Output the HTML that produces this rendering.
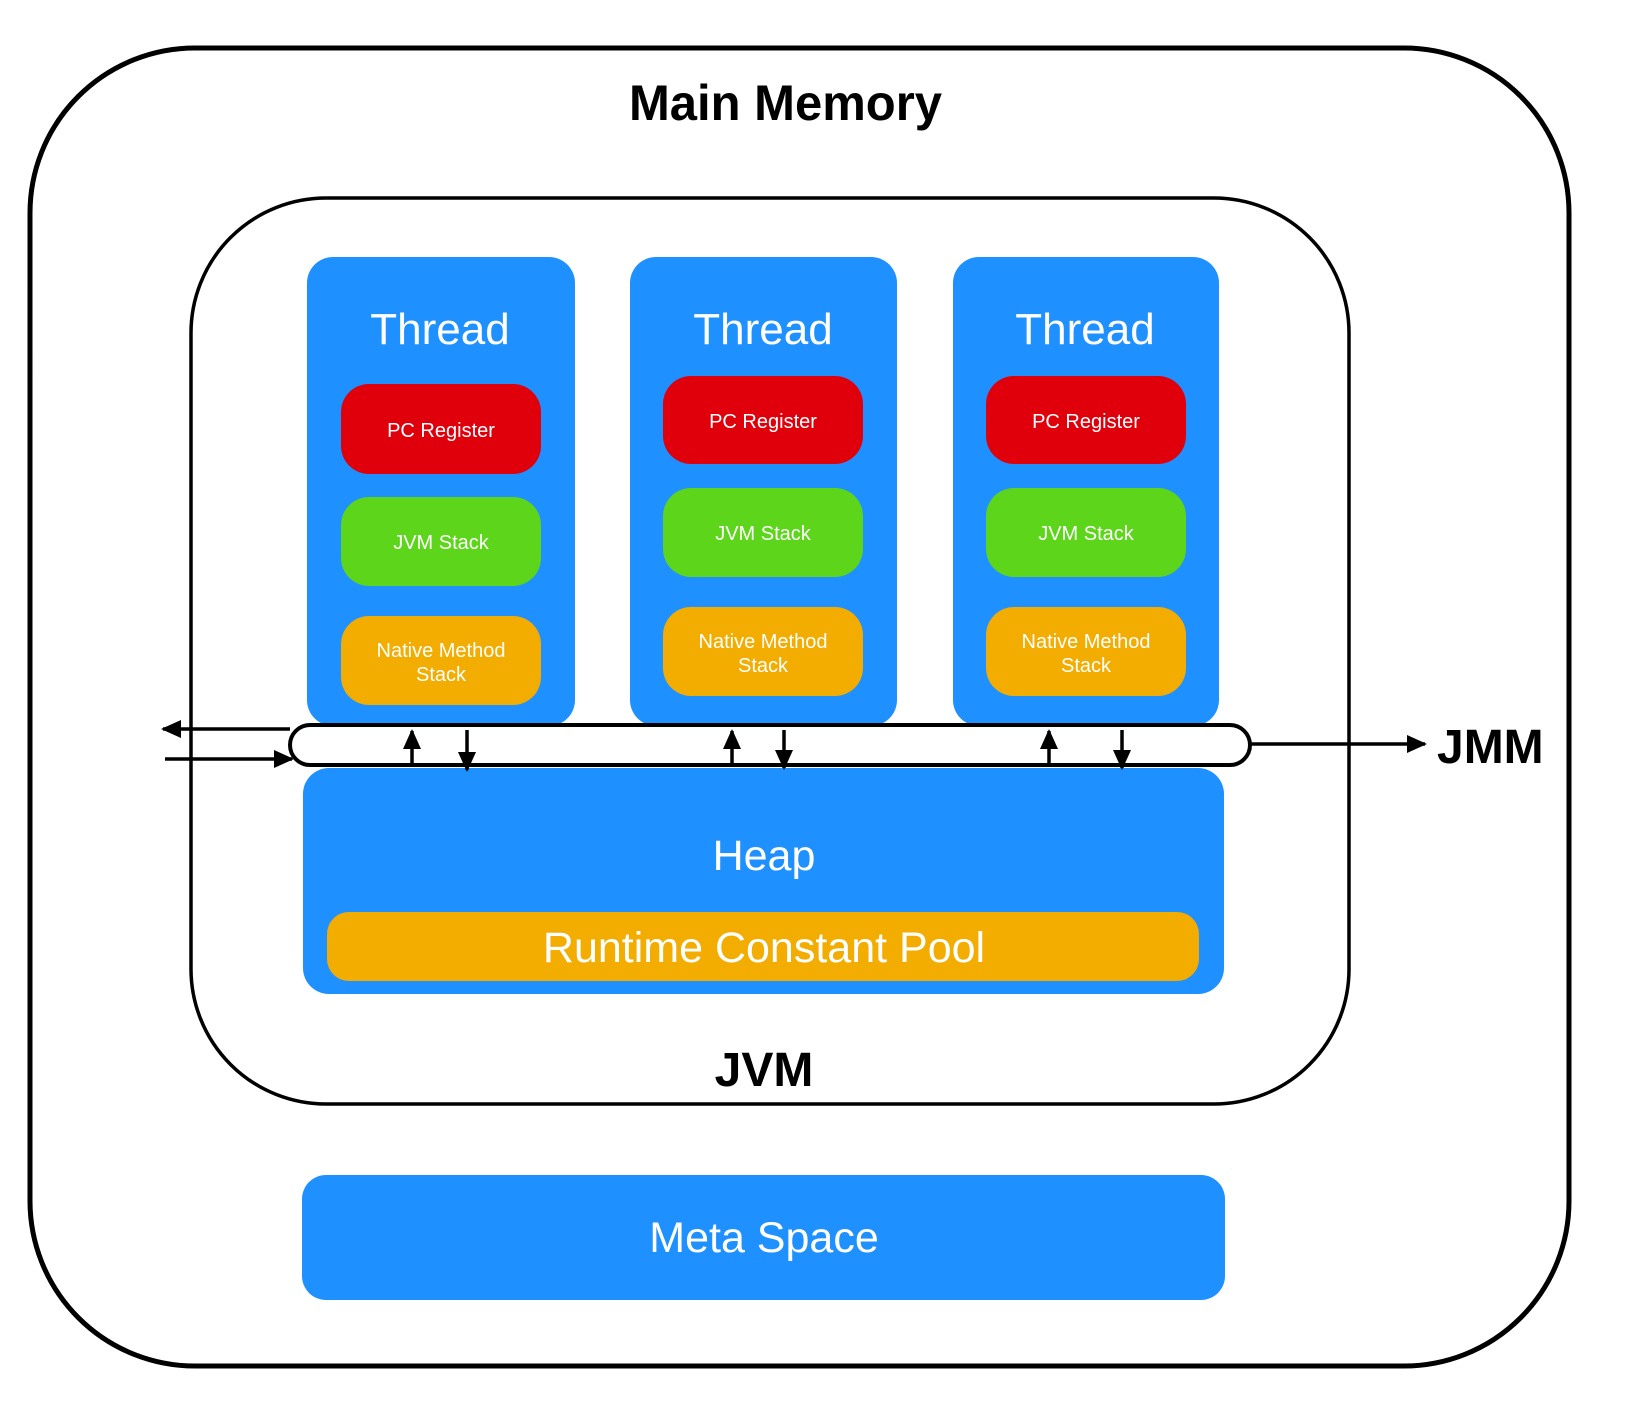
<!DOCTYPE html>
<html><head><meta charset="utf-8"><style>
html,body{margin:0;padding:0;background:#fff;}
svg{display:block;font-family:"Liberation Sans",Arial,sans-serif;}
</style></head><body>
<svg width="1642" height="1408" viewBox="0 0 1642 1408" xmlns="http://www.w3.org/2000/svg">
<defs>
<marker id="ahs" markerWidth="20" markerHeight="20" refX="18" refY="10" orient="auto" markerUnits="userSpaceOnUse" viewBox="0 0 20 20">
<path d="M0,1 L20,10 L0,19 z" fill="#000"/></marker>
</defs>
<rect x="30" y="48" width="1539" height="1318" rx="165" ry="165" fill="none" stroke="#000" stroke-width="5"/>
<text x="629" y="120" font-size="50" font-weight="bold" textLength="313" lengthAdjust="spacingAndGlyphs">Main Memory</text>
<rect x="191" y="198" width="1158" height="906" rx="135" ry="135" fill="none" stroke="#000" stroke-width="3.5"/>
<text x="764" y="1086" font-size="48" font-weight="bold" text-anchor="middle">JVM</text>

<g fill="#1E90FF">
<rect x="307" y="257" width="268" height="469" rx="26"/>
<rect x="630" y="257" width="267" height="469" rx="26"/>
<rect x="953" y="257" width="266" height="469" rx="26"/>
<rect x="303" y="768" width="921" height="226" rx="26"/>
<rect x="302" y="1175" width="923" height="125" rx="24"/>
</g>
<g fill="#fff" font-size="44" text-anchor="middle">
<text x="440" y="344">Thread</text>
<text x="763" y="344">Thread</text>
<text x="1085" y="344">Thread</text>
<text x="764" y="870" font-size="43">Heap</text>
<text x="764" y="1252" font-size="43">Meta Space</text>
</g>
<rect x="327" y="912" width="872" height="69" rx="22" fill="#F3AC00"/>
<text x="764" y="962" fill="#fff" font-size="43" text-anchor="middle">Runtime Constant Pool</text>

<g font-size="20" fill="#fff" text-anchor="middle">
<rect x="341" y="384" width="200" height="90" rx="28" fill="#E0000B"/>
<text x="441" y="437">PC Register</text>
<rect x="341" y="497" width="200" height="89" rx="28" fill="#5CD51A"/>
<text x="441" y="549">JVM Stack</text>
<rect x="341" y="616" width="200" height="89" rx="28" fill="#F3AC00"/>
<text x="441" y="657">Native Method</text><text x="441" y="681">Stack</text>

<rect x="663" y="376" width="200" height="88" rx="28" fill="#E0000B"/>
<text x="763" y="428">PC Register</text>
<rect x="663" y="488" width="200" height="89" rx="28" fill="#5CD51A"/>
<text x="763" y="540">JVM Stack</text>
<rect x="663" y="607" width="200" height="89" rx="28" fill="#F3AC00"/>
<text x="763" y="648">Native Method</text><text x="763" y="672">Stack</text>

<rect x="986" y="376" width="200" height="88" rx="28" fill="#E0000B"/>
<text x="1086" y="428">PC Register</text>
<rect x="986" y="488" width="200" height="89" rx="28" fill="#5CD51A"/>
<text x="1086" y="540">JVM Stack</text>
<rect x="986" y="607" width="200" height="89" rx="28" fill="#F3AC00"/>
<text x="1086" y="648">Native Method</text><text x="1086" y="672">Stack</text>
</g>

<rect x="290" y="725" width="960" height="40" rx="20" fill="#fff" stroke="#000" stroke-width="4"/>
<g stroke="#000" stroke-width="3.5" fill="none">
<line x1="412" y1="764" x2="412" y2="731" marker-end="url(#ahs)"/>
<line x1="467" y1="730" x2="467" y2="770" marker-end="url(#ahs)"/>
<line x1="732" y1="764" x2="732" y2="731" marker-end="url(#ahs)"/>
<line x1="784" y1="730" x2="784" y2="768" marker-end="url(#ahs)"/>
<line x1="1049" y1="764" x2="1049" y2="731" marker-end="url(#ahs)"/>
<line x1="1122" y1="730" x2="1122" y2="768" marker-end="url(#ahs)"/>
<line x1="290" y1="729" x2="163" y2="729" marker-end="url(#ahs)"/>
<line x1="165" y1="759" x2="292" y2="759" marker-end="url(#ahs)"/>
<line x1="1250" y1="744" x2="1425" y2="744" marker-end="url(#ahs)"/>
</g>
<text x="1437" y="763" font-size="48" font-weight="bold">JMM</text>
</svg>
</body></html>
